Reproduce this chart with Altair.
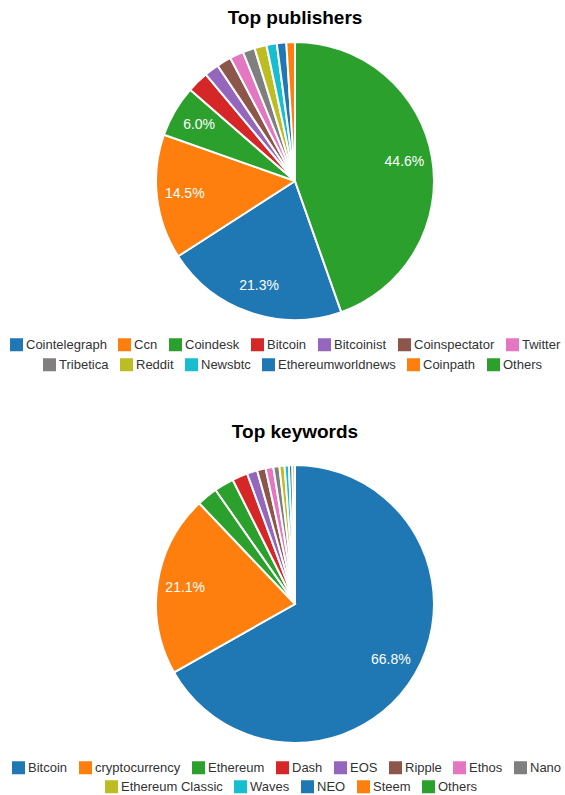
import altair as alt
import pandas as pd

FONT = "Liberation Sans"

pub_names = ["Cointelegraph", "Ccn", "Coindesk", "Bitcoin", "Bitcoinist", "Coinspectator",
             "Twitter", "Tribetica", "Reddit", "Newsbtc", "Ethereumworldnews", "Coinpath", "Others"]
pub_share = [21.3, 14.5, 6.0, 2.5, 1.7, 1.7, 1.6, 1.4, 1.4, 1.2, 1.1, 1.0, 44.6]

kw_names = ["Bitcoin", "cryptocurrency", "Ethereum", "Dash", "EOS", "Ripple", "Ethos", "Nano",
            "Ethereum Classic", "Waves", "NEO", "Steem", "Others"]
kw_share = [66.8, 21.1, 2.3, 1.8, 1.2, 1.0, 0.9, 0.7, 0.6, 0.5, 0.4, 0.3, 2.4]

palette = ["#1f77b4", "#ff7f0e", "#2ca02c", "#d62728", "#9467bd", "#8c564b", "#e377c2",
           "#7f7f7f", "#bcbd22", "#17becf", "#1f77b4", "#ff7f0e", "#2ca02c"]

R = 139


def pie(names, shares, title, title_offset, split, leg1, leg2):
    df = pd.DataFrame({"name": names, "share": shares})
    df["rank"] = df["share"].rank(ascending=False, method="first")
    base = alt.Chart(df).transform_calculate(
        label="datum.share >= 5 ? format(datum.share, '.1f') + '%' : ''"
    )
    theta = alt.Theta("share:Q", stack=True)
    order = alt.Order("rank:Q", sort="ascending")
    scale = alt.Scale(domain=names, range=palette)

    def arc(values, pos):
        return base.mark_arc(outerRadius=R, stroke="white", strokeWidth=2).encode(
            theta=theta,
            order=order,
            color=alt.Color(
                "name:N",
                scale=scale,
                legend=alt.Legend(
                    values=values, orient="none", legendX=pos[0], legendY=pos[1],
                    direction="horizontal", columns=len(values), title=None,
                    symbolType="square", symbolSize=169, symbolStrokeWidth=0,
                    labelFont=FONT, labelFontSize=13, labelColor="#333333",
                    labelOffset=3, columnPadding=11, padding=0, labelLimit=300,
                ),
            ),
        )

    text = base.mark_text(radius=111, fontSize=14, font=FONT, color="white").encode(
        theta=theta, order=order, text="label:N"
    )
    return alt.layer(arc(names[:split], leg1), arc(names[split:], leg2), text).resolve_scale(
        color="independent"
    ).properties(
        width=540, height=2 * R,
        title=alt.Title(title, fontSize=19, font=FONT, fontWeight="bold", color="#000000",
                        anchor="middle", offset=title_offset),
    )


p1 = pie(pub_names, pub_share, "Top publishers", 10, 7, (-15, 296), (18, 316))
p2 = pie(kw_names, kw_share, "Top keywords", 19, 8, (-13, 296), (80, 315))

chart = alt.vconcat(p1, p2, spacing=145, bounds="flush").properties(
    padding={"left": 10, "top": 9, "right": 0, "bottom": 0}
).configure_view(stroke=None)

chart.save("out.html", embed_options={"renderer": "svg", "actions": False})
